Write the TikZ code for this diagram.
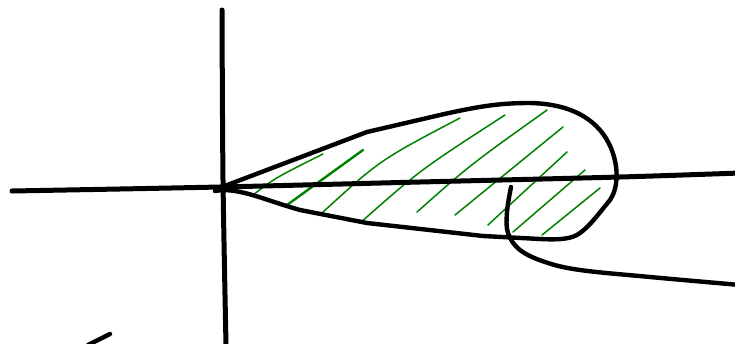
\documentclass[tikz,border=0pt]{standalone}
\begin{document}
\begin{tikzpicture}[x=1pt,y=-1pt,
  ink/.style={line width=4.4pt, line cap=round, line join=round},
  axis/.style={line width=5pt, line cap=round, line join=round},
  hatch/.style={draw={rgb,255:red,0;green,128;blue,0}, line width=1.5pt, line cap=round}]
\useasboundingbox (0,0) rectangle (735,343);
\begin{scope}
\clip (0,0) rectangle (735,343);
% green hatching
\draw[hatch] (253,195) .. controls (275,178) .. (323,154);
\draw[hatch, line width=2.4pt] (287,205) -- (363,150);
\draw[hatch] (323,212) .. controls (380,160) .. (460,118);
\draw[hatch] (360,223) .. controls (420,170) .. (505,115);
\draw[hatch] (417,212) .. controls (470,165) .. (547,110);
\draw[hatch] (455,215) -- (563,127);
\draw[hatch] (488,225) -- (567,152);
\draw[hatch] (513,232) -- (585,170);
\draw[hatch] (542,235) -- (600,188);
% axes
\draw[axis] plot[smooth] coordinates {(12,191) (220,187) (420,182) (620,177) (740,173)};
\draw[axis] plot[smooth] coordinates {(222,10) (223,180) (226,345)};
% teardrop outline
\draw[ink] (222,187) -- (367,132) -- (440,115)
  .. controls (480,106) and (500,103) .. (530,103)
  .. controls (575,104) and (600,122) .. (611,148)
  .. controls (620,170) and (617,190) .. (610,200)
  .. controls (600,212) and (590,226) .. (580,233)
  .. controls (572,239) and (560,240) .. (540,239)
  -- (483,236) -- (367,223) -- (300,210)
  .. controls (265,200) and (245,190) .. (222,190) -- (215,191);
% tail
\draw[ink] plot[smooth, tension=0.6] coordinates {(511,187) (507,212) (508,233) (520,250) (545,262) (580,270) (650,277) (740,285)};
% small stroke
\draw[ink] (88,345) -- (110,334);
\end{scope}
\end{tikzpicture}
\end{document}
